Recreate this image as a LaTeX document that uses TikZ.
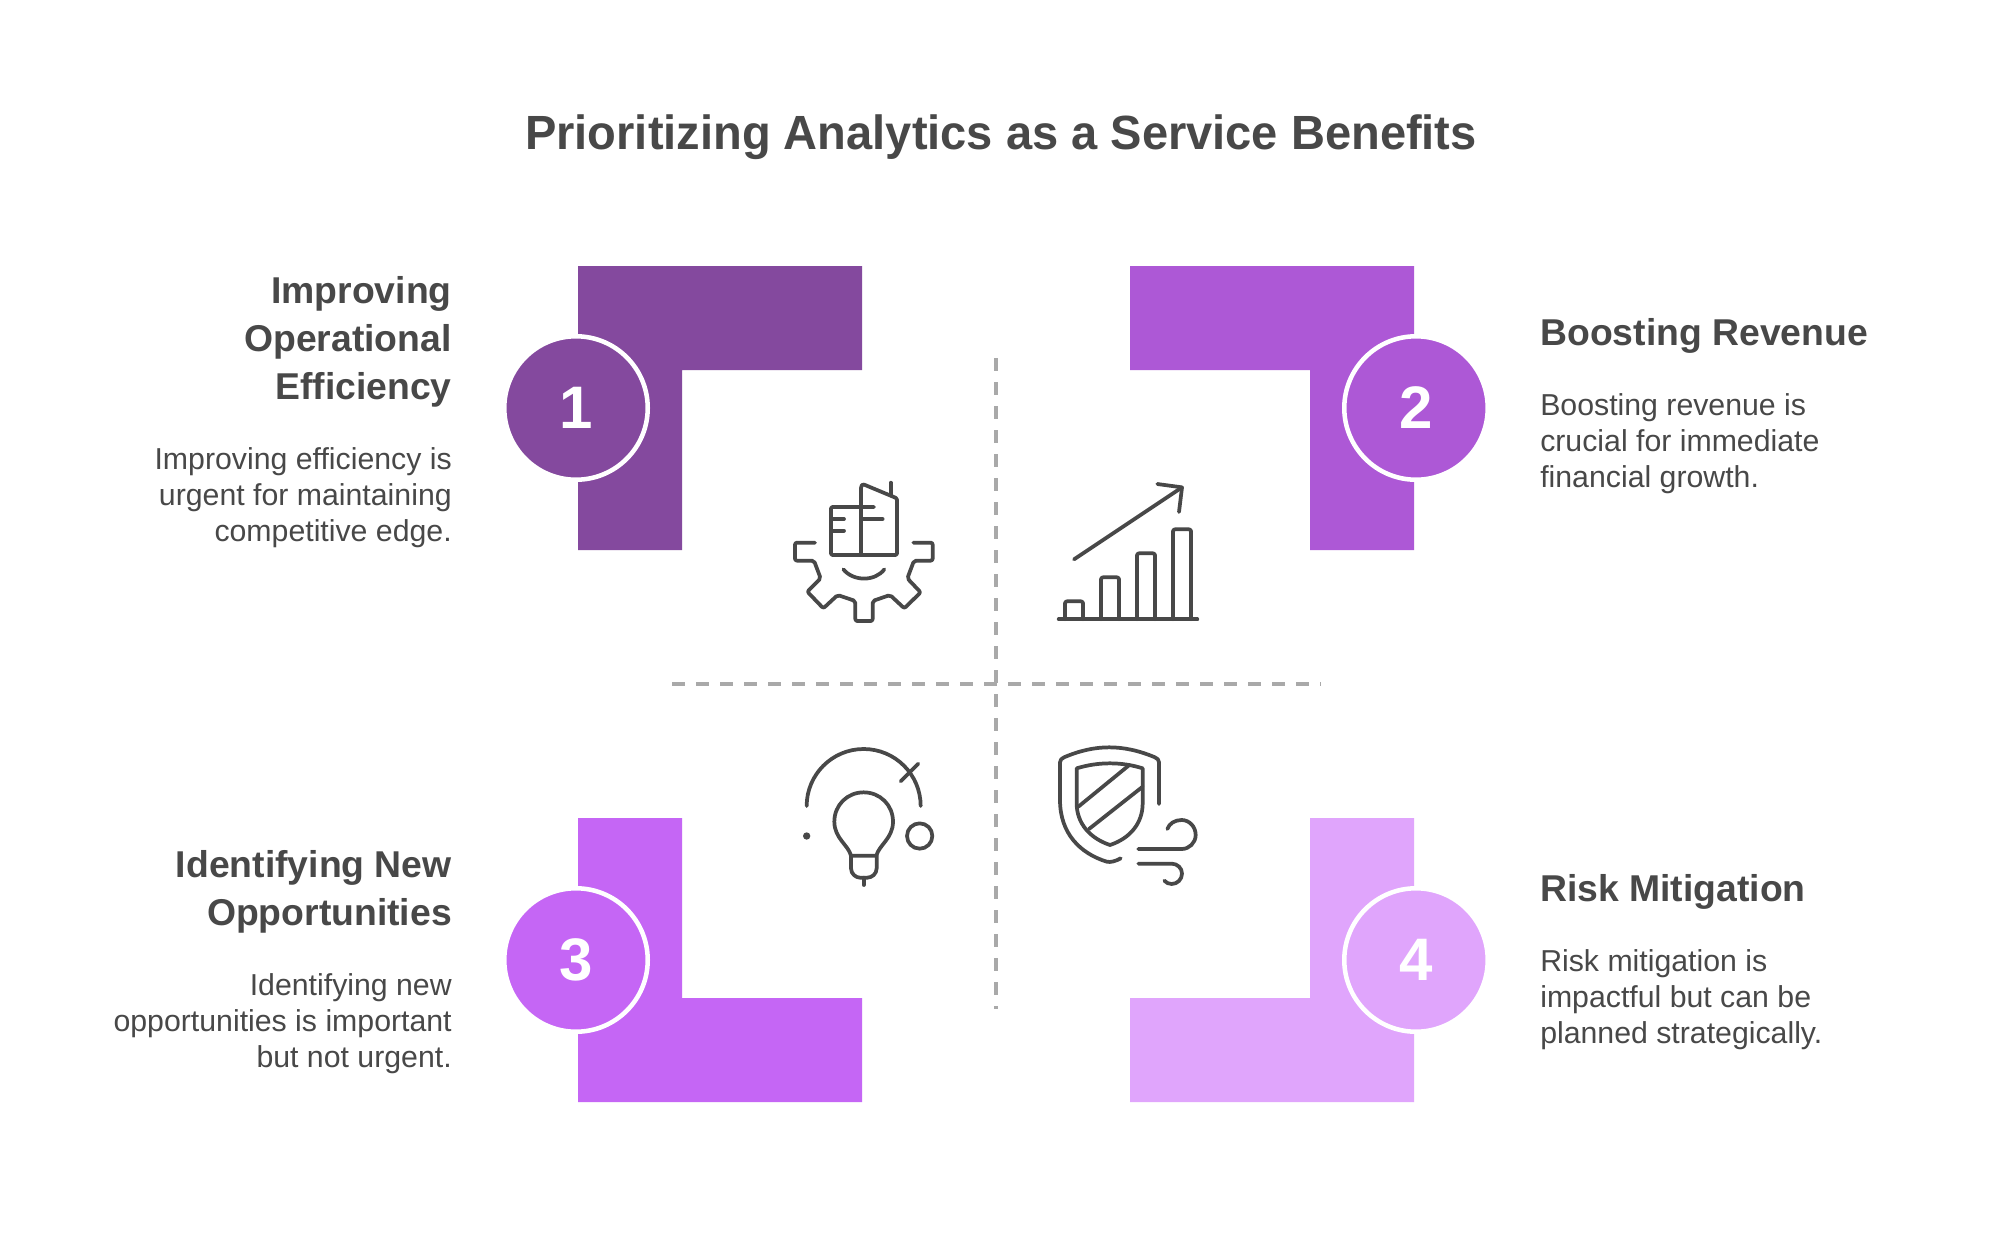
\documentclass[tikz,border=0pt]{standalone}
\usepackage{fontspec}
\setmainfont{Liberation Sans}
\newfontfamily\titlefont[FakeStretch=0.98]{Liberation Sans}
\definecolor{ink}{HTML}{484848}
\definecolor{dashc}{HTML}{A9A9A9}
\definecolor{cA}{HTML}{84499E}
\definecolor{cB}{HTML}{AD58D6}
\definecolor{cC}{HTML}{C566F5}
\definecolor{cD}{HTML}{E0A5FC}
\tikzset{
  titletext/.style={font=\titlefont\fontsize{36}{42}\bfseries\selectfont,text=ink,inner sep=0pt},
  headl/.style={font=\fontsize{28}{36}\bfseries\selectfont,text=ink,inner sep=0pt,align=right,anchor=east},
  headr/.style={font=\fontsize{28}{36}\bfseries\selectfont,text=ink,inner sep=0pt,align=left,anchor=west},
  bodyl/.style={font=\fontsize{22.7}{27}\selectfont,text=ink,inner sep=0pt,align=right,anchor=east},
  bodyr/.style={font=\fontsize{22.7}{27}\selectfont,text=ink,inner sep=0pt,align=left,anchor=west},
  badge/.style={circle,draw=white,line width=3.4pt,minimum size=107.6pt,inner sep=0pt,text=white,font=\fontsize{45}{45}\bfseries\selectfont},
  axisline/.style={draw=dashc,line width=3pt,dash pattern=on 10pt off 8pt},
  icon/.style={draw=ink,line width=2.8pt,line cap=round,line join=round},
  iconA/.style={x=.25pt,y=-.25pt,shift={(577.5pt,-345pt)}},
  iconB/.style={x=.25pt,y=-.25pt,shift={(577.5pt,-547.5pt)}}
}
\begin{document}
\begin{tikzpicture}[x=.75pt,y=-.75pt]
\useasboundingbox (0,0) rectangle (2000,1250);
\fill[white] (0,0) rectangle (2000,1250);

\node[titletext] (title) at (1001,137) {Prioritizing Analytics as a Service Benefits};

% L shapes
\fill[cA] (578,266) -- (862,266) -- (862,370) -- (682,370) -- (682,550) -- (578,550) -- cycle;
\fill[cB] (1130,266) -- (1414,266) -- (1414,550) -- (1310,550) -- (1310,370) -- (1130,370) -- cycle;
\fill[cC] (578,818) -- (682,818) -- (682,998) -- (862,998) -- (862,1102) -- (578,1102) -- cycle;
\fill[cD] (1310,818) -- (1414,818) -- (1414,1102) -- (1130,1102) -- (1130,998) -- (1310,998) -- cycle;

% badges
\node[badge,fill=cA] (b1) at (576,408) {1};
\node[badge,fill=cB] (b2) at (1416,408) {2};
\node[badge,fill=cC] (b3) at (576,960) {3};
\node[badge,fill=cD] (b4) at (1416,960) {4};

% axes
\coordinate (vtop) at (996,358);
\coordinate (vbot) at (996,1009);
\coordinate (hleft) at (672,684);
\coordinate (hright) at (1321,684);
\draw[axisline] (vtop) -- (vbot);
\draw[axisline] (hleft) -- (hright);

% texts
\node[headl] (h1) at (452,342) {Improving\\Operational\\Efficiency};
\node[bodyl] (t1) at (452,498) {Improving efficiency is\\urgent for maintaining\\competitive edge.};
\node[headr] (h2) at (1540,336) {Boosting Revenue};
\node[bodyr] (t2) at (1540,444) {Boosting revenue is\\crucial for immediate\\financial growth.};
\node[headl] (h3) at (452,892) {Identifying New\\Opportunities};
\node[bodyl] (t3) at (452,1024) {Identifying new\\opportunities is important\\but not urgent.};
\node[headr] (h4) at (1540,892) {Risk Mitigation};
\node[bodyr] (t4) at (1540,1000) {Risk mitigation is\\impactful but can be\\planned strategically.};

% gear + building
\begin{scope}[iconA]
\draw[icon,rounded corners=1.5pt] (135,248) -- (75,248) -- (75,302) -- (132,302) -- (152,355) -- (112,395) -- (160,445) -- (203,405) -- (256,423) -- (256,483) -- (308,483) -- (308,423) -- (360,405) -- (403,445) -- (452,397) -- (412,355) -- (432,302) -- (488,302) -- (488,248) -- (430,248);
\draw[icon] (220,328) .. controls (250,365) and (315,365) .. (343,328);
\draw[icon,rounded corners=1pt] (312,141) -- (183,141) -- (183,285) -- (381,285) -- (381,115) -- (278,72) -- (273,80) -- (273,285);
\draw[icon] (362,68) -- (362,105);
\draw[icon] (183,177) -- (222,177);
\draw[icon] (183,212) -- (222,212);
\draw[icon] (273,177) -- (338,177);
% chart
\draw[icon] (866,478) -- (1282,478);
\draw[icon,rounded corners=1.5pt] (885,478) -- (885,424) -- (939,424) -- (939,478);
\draw[icon,rounded corners=1.5pt] (993,478) -- (993,352) -- (1047,352) -- (1047,478);
\draw[icon,rounded corners=1.5pt] (1101,478) -- (1101,280) -- (1155,280) -- (1155,478);
\draw[icon,rounded corners=1.5pt] (1209,478) -- (1209,208) -- (1263,208) -- (1263,478);
\draw[icon] (912,298) -- (1236,82);
\draw[icon] (1162,72) -- (1236,82) -- (1227,156);
\end{scope}

% bulb + shield
\begin{scope}[iconB]
\draw[icon] (110,228) .. controls (110,133.6) and (186.6,57) .. (281,57) .. controls (375.4,57) and (452,133.6) .. (452,228);
\draw[icon] (392,154) -- (445,101);
\fill[ink] (110,318) circle[radius=11];
\draw[icon] (449,318) circle[radius=38];
\draw[icon] (243,377) .. controls (235,345) and (193,325) .. (193,275) .. controls (193,225) and (232,187) .. (281,187) .. controls (330,187) and (369,225) .. (369,275) .. controls (369,325) and (327,345) .. (319,377) -- cycle;
\draw[icon] (243,377) -- (243,415) .. controls (243,432) and (258,443) .. (270,443) -- (292,443) .. controls (305,443) and (320,432) .. (320,415) -- (320,377);
\draw[icon] (281,443) -- (281,465);
% shield
\draw[icon] (1167,222) -- (1167,97) .. controls (1167,90) and (1162,85) .. (1155,82) .. controls (1060,42) and (975,42) .. (882,82) .. controls (875,85) and (870,90) .. (870,97) -- (870,210) .. controls (870,310) and (930,370) .. (1010,395) .. controls (1022,398) and (1038,393) .. (1052,385);
\draw[icon] (920,115) .. controls (985,95) and (1055,95) .. (1118,115) -- (1118,220) .. controls (1118,280) and (1080,325) .. (1020,345) .. controls (960,325) and (920,280) .. (920,220) -- cycle;
\draw[icon] (925,230) -- (1078,105);
\draw[icon] (957,297) -- (1118,170);
\draw[icon] (1105,357) -- (1235,357) .. controls (1258,357) and (1277,338) .. (1277,315) .. controls (1277,290) and (1258,270) .. (1235,270) .. controls (1215,270) and (1198,280) .. (1192,297);
\draw[icon] (1105,401) -- (1205,401) .. controls (1222,401) and (1236,414) .. (1236,431) .. controls (1236,448) and (1222,462) .. (1205,462) .. controls (1196,462) and (1188,458) .. (1183,452);
\end{scope}
\end{tikzpicture}
\end{document}
